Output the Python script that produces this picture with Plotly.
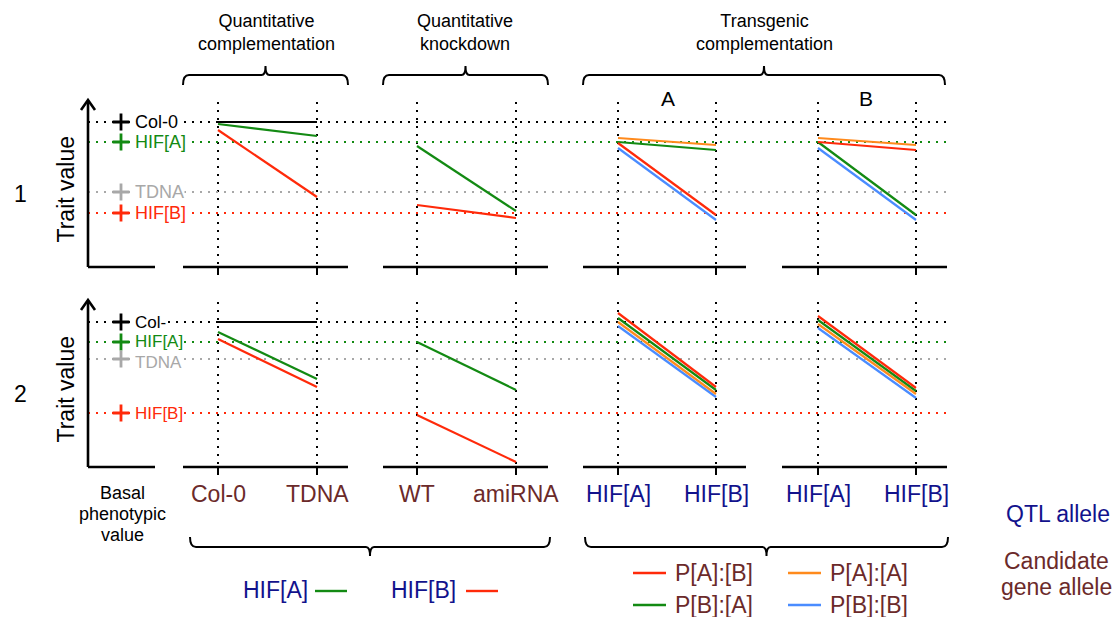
import plotly.graph_objects as go

W, H = 1116, 617
FONT = "Liberation Sans, Arial, sans-serif"
RED, GREEN, ORANGE, BLUE, GREY = "#ff2a0a", "#138a13", "#ff8a1c", "#4a8cff", "#a8a8a8"
BROWN, NAVY = "#6b2a2a", "#12128c"

# ---------------- data ----------------
categories = ["Col-0", "TDNA", "WT", "amiRNA", "HIF[A]", "HIF[B]", "HIF[A]", "HIF[B]"]
level_names_1 = ["Col-0", "HIF[A]", "TDNA", "HIF[B]"]
level_names_2 = ["Col-", "HIF[A]", "TDNA", "HIF[B]"]
levels_row1 = [145, 125, 75, 54]
levels_row2 = [145, 125, 108, 54]

# row 1 (trait values at the two categories of each panel)
r1_qc_col0 = [145, 145]
r1_qc_hifA = [143, 131]
r1_qc_hifB = [137, 70]
r1_qk_hifA = [121, 56]
r1_qk_hifB = [62, 49]
r1_tcA = {"P[A]:[A]": [129, 122], "P[B]:[A]": [125, 117], "P[A]:[B]": [124, 52], "P[B]:[B]": [119, 47]}
r1_tcB = {"P[A]:[A]": [129, 122], "P[A]:[B]": [125, 117], "P[B]:[A]": [125, 52], "P[B]:[B]": [119, 47]}
# row 2
r2_qc_col0 = [145, 145]
r2_qc_hifA = [135, 88]
r2_qc_hifB = [128, 80]
r2_qk_hifA = [125, 77]
r2_qk_hifB = [52, 5]
r2_tcA = {"P[A]:[B]": [154, 80], "P[B]:[A]": [149, 77], "P[A]:[A]": [145, 73], "P[B]:[B]": [141, 70]}
r2_tcB = {"P[A]:[B]": [151, 79], "P[B]:[A]": [147, 76], "P[A]:[A]": [143, 73], "P[B]:[B]": [139, 69]}

allele_colors = {"P[A]:[B]": RED, "P[A]:[A]": ORANGE, "P[B]:[A]": GREEN, "P[B]:[B]": BLUE}
level_colors = ["#000000", GREEN, GREY, RED]

# ---------------- layout constants ----------------
cat_x = [218, 317, 417, 516, 618, 716, 818, 916]
rows = [  # baseline px, top px, yaxis, label size, label shifts
    dict(base=267, top=100, ax="y", ref="y", levels=levels_row1, names=level_names_1,
         lsize=18, shifts=[0, 0, 0, 0]),
    dict(base=467, top=300, ax="y2", ref="y2", levels=levels_row2, names=level_names_2,
         lsize=17, shifts=[0, 1, -3, 0]),
]
def py(p):
    return 1 - p / H

fig = go.Figure()

def seg(x0, x1, vals, color, ax):
    fig.add_trace(go.Scatter(x=[x0, x1], y=vals, mode="lines", yaxis=ax,
                             line=dict(color=color, width=2.2), hoverinfo="skip", showlegend=False))

panels = [
    (r1_qc_col0, r1_qc_hifA, r1_qc_hifB, r1_qk_hifA, r1_qk_hifB, r1_tcA, r1_tcB),
    (r2_qc_col0, r2_qc_hifA, r2_qc_hifB, r2_qk_hifA, r2_qk_hifB, r2_tcA, r2_tcB),
]

shapes = []
annotations = []

for r, row in enumerate(rows):
    b, t, ax = row["base"], row["top"], row["ax"]
    # reference dotted lines
    for lv, col in zip(row["levels"], level_colors):
        shapes.append(dict(type="line", xref="x", yref=row["ref"], x0=88, x1=950, y0=lv, y1=lv,
                           line=dict(color=col, width=2, dash="2px,6px"), layer="below"))
    # vertical dotted lines
    for x in cat_x:
        shapes.append(dict(type="line", xref="x", yref="paper", x0=x, x1=x, y0=py(t + 2), y1=py(b),
                           line=dict(color="#000", width=2, dash="2px,6px"), layer="below"))
        shapes.append(dict(type="line", xref="x", yref="paper", x0=x, x1=x, y0=py(b), y1=py(b + 8),
                           line=dict(color="#000", width=2)))
    # axis
    shapes.append(dict(type="line", xref="x", yref="paper", x0=88, x1=88, y0=py(b), y1=py(t + 2),
                       line=dict(color="#000", width=2.6)))
    shapes.append(dict(type="path", xref="x", yref="paper",
                       path=f"M 81 {py(t + 10)} L 88 {py(t)} L 95 {py(t + 10)}",
                       line=dict(color="#000", width=2.6)))
    for x0, x1 in [(88, 155), (183, 348), (383, 548), (583, 746), (782, 947)]:
        shapes.append(dict(type="line", xref="x", yref="paper", x0=x0, x1=x1, y0=py(b), y1=py(b),
                           line=dict(color="#000", width=2.6)))
    # level markers and labels
    for lv, col, name, sh in zip(row["levels"], level_colors, row["names"], row["shifts"]):
        fig.add_trace(go.Scatter(x=[121], y=[lv], mode="markers", yaxis=ax, hoverinfo="skip",
                                 showlegend=False,
                                 marker=dict(symbol="cross-thin", size=12, line=dict(color=col, width=2.8))))
        annotations.append(dict(x=134, y=lv, xref="x", yref=row["ref"], text=name, showarrow=False,
                                xanchor="left", yanchor="middle", bgcolor="white", borderpad=0,
                                yshift=sh, font=dict(family=FONT, size=row["lsize"], color=col)))
    # trait lines
    qc0, qcA, qcB, qkA, qkB, tcA, tcB = panels[r]
    seg(cat_x[0], cat_x[1], qc0, "#000", ax)
    seg(cat_x[0], cat_x[1], qcA, GREEN, ax)
    seg(cat_x[0], cat_x[1], qcB, RED, ax)
    seg(cat_x[2], cat_x[3], qkA, GREEN, ax)
    seg(cat_x[2], cat_x[3], qkB, RED, ax)
    order = ["P[A]:[A]", "P[B]:[B]", "P[B]:[A]", "P[A]:[B]"] if r == 0 else ["P[B]:[B]", "P[A]:[A]", "P[B]:[A]", "P[A]:[B]"]
    for k in order:
        seg(cat_x[4], cat_x[5], tcA[k], allele_colors[k], ax)
        seg(cat_x[6], cat_x[7], tcB[k], allele_colors[k], ax)
    # row number and axis title
    mid = (b + t) / 2
    annotations.append(dict(x=20, y=py(mid + 10), xref="x", yref="paper", text=str(r + 1),
                            showarrow=False, xanchor="center", yanchor="middle",
                            font=dict(family=FONT, size=23, color="#000")))
    annotations.append(dict(x=65, y=py(mid + 6), xref="x", yref="paper", text="Trait value",
                            showarrow=False, textangle=-90, xanchor="center", yanchor="middle",
                            font=dict(family=FONT, size=23, color="#000")))

# braces
def brace_top(x0, x1, y, h=10, nub=9):
    xm = (x0 + x1) / 2
    return (f"M {x0} {py(y + h)} Q {x0} {py(y)} {x0 + 6} {py(y)} L {xm - 4} {py(y)} "
            f"Q {xm} {py(y)} {xm} {py(y - nub)} Q {xm} {py(y)} {xm + 4} {py(y)} "
            f"L {x1 - 6} {py(y)} Q {x1} {py(y)} {x1} {py(y + h)}")
def brace_bot(x0, x1, y, h=10, nub=9):
    xm = (x0 + x1) / 2
    return (f"M {x0} {py(y - h)} Q {x0} {py(y)} {x0 + 6} {py(y)} L {xm - 4} {py(y)} "
            f"Q {xm} {py(y)} {xm} {py(y + nub)} Q {xm} {py(y)} {xm + 4} {py(y)} "
            f"L {x1 - 6} {py(y)} Q {x1} {py(y)} {x1} {py(y - h)}")
for x0, x1 in [(183, 348), (383, 548), (583, 945)]:
    shapes.append(dict(type="path", xref="x", yref="paper", path=brace_top(x0, x1, 75),
                       line=dict(color="#000", width=2)))
for x0, x1 in [(190, 550), (585, 948)]:
    shapes.append(dict(type="path", xref="x", yref="paper", path=brace_bot(x0, x1, 547),
                       line=dict(color="#000", width=2)))

def txt(x, y, s, size, color="#000", xanchor="center"):
    annotations.append(dict(x=x, y=py(y), xref="x", yref="paper", text=s, showarrow=False,
                            xanchor=xanchor, yanchor="middle",
                            font=dict(family=FONT, size=size, color=color)))

headers = ["Quantitative<br>complementation", "Quantitative<br>knockdown", "Transgenic<br>complementation"]
for xc, h in zip([266, 465, 764], headers):
    txt(xc, 32, h, 18)
txt(668, 98, "A", 21)
txt(866, 98, "B", 21)

for i, (x, c) in enumerate(zip(cat_x, categories)):
    txt(x, 494, c, 23, BROWN if i < 4 else NAVY)
for yy, s in zip([493, 514, 535], ["Basal", "phenotypic", "value"]):
    txt(122, yy, s, 18)
txt(1058, 514, "QTL allele", 23, NAVY)
txt(1056, 561, "Candidate", 23, BROWN)
txt(1056, 587, "gene allele", 23, BROWN)

# bottom legends
legend_left = [("HIF[A]", GREEN, 275, 315), ("HIF[B]", RED, 423, 466)]
for name, col, xt, xl in legend_left:
    txt(xt, 590, name, 23, NAVY)
    shapes.append(dict(type="line", xref="x", yref="paper", x0=xl, x1=xl + 32, y0=py(591), y1=py(591),
                       line=dict(color=col, width=2.4)))
legend_right = [("P[A]:[B]", 633, 573), ("P[A]:[A]", 788, 573), ("P[B]:[A]", 633, 605), ("P[B]:[B]", 788, 605)]
for name, xl, yl in legend_right:
    shapes.append(dict(type="line", xref="x", yref="paper", x0=xl, x1=xl + 33, y0=py(yl), y1=py(yl),
                       line=dict(color=allele_colors[name], width=2.4)))
    txt(xl + 40, yl, name, 23, BROWN, xanchor="left")

fig.update_layout(
    width=W, height=H, margin=dict(l=0, r=0, t=0, b=0),
    paper_bgcolor="white", plot_bgcolor="rgba(0,0,0,0)",
    xaxis=dict(range=[0, W], domain=[0, 1], visible=False, fixedrange=True, anchor="y2"),
    yaxis=dict(range=[0, 167], domain=[py(267), py(100)], visible=False, anchor="x"),
    yaxis2=dict(range=[0, 167], domain=[py(467), py(300)], visible=False, anchor="x"),
    shapes=shapes, annotations=annotations, showlegend=False,
)
fig.write_html("out.html", config={"displayModeBar": False},
               post_script="document.body.style.margin='0';document.body.style.overflow='hidden';")
